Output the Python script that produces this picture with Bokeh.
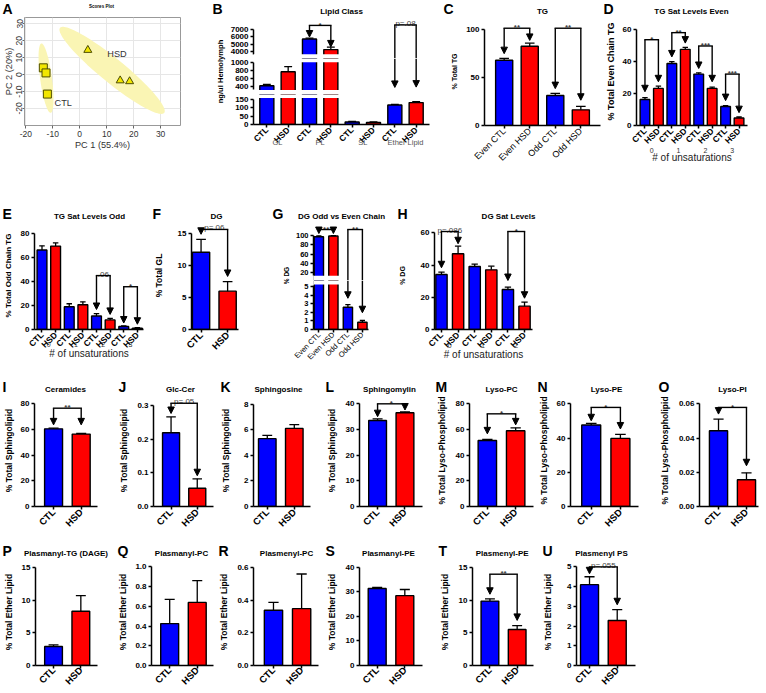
import numpy as np
from math import pi
from bokeh.plotting import figure
from bokeh.layouts import row, column
from bokeh.models import (Range1d, FixedTicker, Label, Arrow, NormalHead, LinearAxis,
                          BoxAnnotation, NumeralTickFormatter)
from bokeh.embed import file_html
from bokeh.resources import INLINE

# ======================= DATA =======================
conditions = ["CTL", "HSD"]

# A  PCA scores plot
pca_ctl_pc1 = [-13.5, -12.5, -12.0]
pca_ctl_pc2 = [4.0, 1.0, -11.5]
pca_hsd_pc1 = [3.0, 15.0, 18.5]
pca_hsd_pc2 = [14.5, -3.5, -4.0]
pca_ticks = [-20, -10, 0, 10, 20, 30]
# confidence ellipses: centre x, centre y, half-major vector (dx, dy), half-minor length
ellipse_ctl = [-12.5, -2.1, -1.7, 20.5, 2.2]
ellipse_hsd = [12.0, 2.5, -19.0, 25.5, 5.6]

# B  Lipid class (ng/ul hemolymph)
lipid_classes = ["GL", "PL", "SL", "Ether Lipid"]
lipid_ctl = [410, 5700, 15, 116]
lipid_ctl_err = [35, 120, 3, 4]
lipid_hsd = [770, 4300, 12, 130]
lipid_hsd_err = [130, 320, 3, 6]

# C  TG chain parity
tg_chain_labels = ["Even CTL", "Even HSD", "Odd CTL", "Odd HSD"]
tg_chain = [68.0, 82.5, 31.3, 16.3]
tg_chain_err = [2.0, 3.2, 2.1, 3.6]

# D  TG saturation, even chain
unsat_levels = ["0", "1", "2", "3"]
tg_even_ctl = [16.2, 38.6, 32.0, 11.8]
tg_even_ctl_err = [1.2, 1.2, 0.8, 0.6]
tg_even_hsd = [23.1, 47.4, 23.1, 4.7]
tg_even_hsd_err = [1.4, 1.3, 0.8, 0.6]

# E  TG saturation, odd chain
tg_odd_ctl = [66.3, 19.0, 11.3, 2.5]
tg_odd_ctl_err = [3.5, 2.5, 1.9, 0.5]
tg_odd_hsd = [69.6, 20.6, 8.0, 1.1]
tg_odd_hsd_err = [2.7, 2.5, 1.3, 0.4]

# F  DG
dg_gl = [12.1, 6.0]
dg_gl_err = [2.0, 1.5]

# G  DG odd vs even chain
dg_chain_labels = ["Even CTL", "Even HSD", "Odd CTL", "Odd HSD"]
dg_chain = [97.4, 99.15, 2.6, 0.85]
dg_chain_err = [2.0, 0.6, 0.3, 0.2]

# H  DG saturation
dg_unsat_levels = ["0", "1", "2"]
dg_sat_ctl = [34.1, 39.1, 24.8]
dg_sat_ctl_err = [1.5, 1.5, 1.5]
dg_sat_hsd = [47.0, 37.0, 14.5]
dg_sat_hsd_err = [4.7, 2.3, 2.5]

# I - U  (CTL, HSD)
ceramides = [60.5, 56.4];          ceramides_err = [0.6, 0.6]
glc_cer = [0.219, 0.054];          glc_cer_err = [0.047, 0.028]
sphingosine = [5.3, 6.1];          sphingosine_err = [0.25, 0.3]
sphingomyelin = [33.5, 36.5];      sphingomyelin_err = [0.6, 0.4]
lyso_pc = [51.4, 59.0];            lyso_pc_err = [0.8, 2.3]
lyso_pe = [47.6, 39.8];            lyso_pe_err = [1.0, 2.4]
lyso_pi = [0.0443, 0.0156];        lyso_pi_err = [0.0068, 0.0041]
plasmanyl_tg = [2.9, 8.3];         plasmanyl_tg_err = [0.25, 2.4]
plasmanyl_pc = [0.425, 0.64];      plasmanyl_pc_err = [0.245, 0.22]
plasmenyl_pc = [0.338, 0.348];     plasmenyl_pc_err = [0.048, 0.212]
plasmanyl_pe = [31.4, 28.5];       plasmanyl_pe_err = [0.5, 2.5]
plasmenyl_pe = [9.85, 5.5];        plasmenyl_pe_err = [0.35, 0.6]
plasmenyl_ps = [4.1, 2.28];        plasmenyl_ps_err = [0.4, 0.55]

# ======================= STYLE / HELPERS =======================
S = 1.0
FONT = "Liberation Sans"
BLUE, RED = "#0000ff", "#ff0000"
WHITE = dict(fill_color="white", fill_alpha=1.0, line_color=None)
CHW = {".": 0.278, "-": 0.333}
LETTER = 14


def sc(v):
    return int(round(v * S))


def fs(v):
    return f"{v * S:.2f}px"


def text_w(s):
    return sum(CHW.get(c, 0.556) for c in s)


def tick_str(t, fmt):
    nd = len(fmt.split(".")[1]) if "." in fmt else 0
    return f"{t:.{nd}f}"


def interleave(a, b):
    out = []
    for u, v in zip(a, b):
        out += [u, v]
    return out


def clean(p):
    p.outline_line_color = None
    p.background_fill_color = "white"
    p.border_fill_color = "white"
    p.grid.visible = False
    p.xgrid.visible = False
    p.ygrid.visible = False


def blank(x0, x1, y0, y1):
    """Strip whose data coordinates equal page pixels (for letters and titles)."""
    p = figure(width=sc(x1) - sc(x0), height=sc(y1) - sc(y0),
               x_range=Range1d(x0, x1), y_range=Range1d(y1, y0),
               output_backend="svg", toolbar_location=None,
               x_axis_location=None, y_axis_location=None,
               min_border_left=0, min_border_right=0, min_border_top=0, min_border_bottom=0)
    clean(p)
    return p


def put(p, s, x, y, size, bold=False, align="center", baseline="middle", color="black"):
    p.add_layout(Label(x=x, y=y, text=s, text_font=FONT, text_font_size=fs(size),
                       text_font_style="bold" if bold else "normal", text_align=align,
                       text_baseline=baseline, text_color=color))


def label_fig(x0, x1, y0, y1, text, size, lx, ly):
    """Narrow figure carrying only a vertical axis title centred at (lx, ly)."""
    fl = min(lx + 0.56 * size, x1 - 2)
    span = min(ly - y0, y1 - ly)
    ft, fb = ly - span, ly + span
    p = figure(width=sc(x1) - sc(x0), height=sc(y1) - sc(y0),
               x_range=Range1d(0, 1), y_range=Range1d(0, 1),
               output_backend="svg", toolbar_location=None,
               x_axis_location=None, y_axis_location="left",
               min_border_left=sc(fl) - sc(x0), min_border_right=0,
               min_border_top=sc(ft) - sc(y0), min_border_bottom=sc(y1) - sc(fb))
    clean(p)
    ax = p.yaxis[0]
    ax.ticker = FixedTicker(ticks=[])
    ax.axis_line_color = None
    ax.major_tick_line_color = None
    ax.minor_tick_line_color = None
    ax.major_tick_out = 0
    ax.major_tick_in = 0
    ax.major_label_standoff = 0
    ax.axis_label = text
    ax.axis_label_standoff = 0
    ax.axis_label_text_font = FONT
    ax.axis_label_text_font_size = fs(size)
    ax.axis_label_text_font_style = "bold"
    ax.axis_label_text_color = "black"
    return p


class Pan:
    def __init__(self, x0, x1, y0, y1, fl, fr, ft, fb, xr=None, xcal=None,
                 ycal=None, yr=None, xaxis=True, yaxis=True):
        if xcal is not None:
            va, pa_, vb, pb = xcal
            k = (vb - va) / (pb - pa_)
            xr = (va + (fl - pa_) * k, va + (fr - pa_) * k)
        if ycal is not None:
            va, pa_, vb, pb = ycal
            k = (vb - va) / (pb - pa_)
            yr = (va + (fb - pa_) * k, va + (ft - pa_) * k)
        self.xr, self.yr = tuple(xr), tuple(yr)
        self.fl, self.fr, self.ft, self.fb = fl, fr, ft, fb
        p = figure(width=sc(x1) - sc(x0), height=sc(y1) - sc(y0),
                   x_range=Range1d(*self.xr), y_range=Range1d(*self.yr),
                   output_backend="svg", toolbar_location=None,
                   x_axis_location="below" if xaxis else None,
                   y_axis_location="left" if yaxis else None,
                   min_border_left=sc(fl) - sc(x0), min_border_right=sc(x1) - sc(fr),
                   min_border_top=sc(ft) - sc(y0), min_border_bottom=sc(y1) - sc(fb))
        clean(p)
        self.p = p


def base_axis(ax, size, bold):
    ax.axis_line_width = 1.5 * S
    ax.axis_line_color = "black"
    ax.major_tick_line_width = 1.5 * S
    ax.major_tick_line_color = "black"
    ax.major_tick_out = 3
    ax.major_tick_in = 0
    ax.minor_tick_line_color = None
    ax.major_label_standoff = 2
    ax.major_label_text_font = FONT
    ax.major_label_text_font_size = fs(size)
    ax.major_label_text_font_style = "bold" if bold else "normal"
    ax.major_label_text_color = "black"


def style_y(pan, ticks, fmt="0", bounds=None, size=8, label=None, lsize=8.5, lx=None):
    ax = pan.p.yaxis[0]
    ax.ticker = FixedTicker(ticks=ticks)
    ax.bounds = tuple(bounds) if bounds is not None else (ticks[0], ticks[-1])
    ax.formatter = NumeralTickFormatter(format=fmt)
    base_axis(ax, size, True)
    if label is not None:
        w = max(text_w(tick_str(t, fmt)) for t in ticks) * size
        st = (pan.fl - lx) - 3 - 2 - w - 0.56 * lsize
        ax.axis_label = label
        ax.axis_label_standoff = max(0, int(round(st)))
        ax.axis_label_text_font = FONT
        ax.axis_label_text_font_size = fs(lsize)
        ax.axis_label_text_font_style = "bold"
        ax.axis_label_text_color = "black"


def style_x(pan, labels, size, bold, standoff=1):
    ax = pan.p.xaxis[0]
    ax.ticker = FixedTicker(ticks=list(range(len(labels))))
    ax.major_label_overrides = {i: s for i, s in enumerate(labels)}
    ax.major_label_orientation = pi / 4
    base_axis(ax, size, bold)
    ax.major_label_standoff = standoff


def group_axis(pan, labels, standoff, size, color="#333333", title=None, title_standoff=0):
    centers = [2 * k + 0.5 for k in range(len(labels))]
    ax = LinearAxis(ticker=FixedTicker(ticks=centers),
                    major_label_overrides={c: s for c, s in zip(centers, labels)})
    ax.axis_line_color = None
    ax.major_tick_line_color = None
    ax.minor_tick_line_color = None
    ax.major_tick_in = 0
    ax.major_tick_out = 0
    ax.major_label_standoff = standoff
    ax.major_label_text_font = FONT
    ax.major_label_text_font_size = fs(size)
    ax.major_label_text_color = color
    if title is not None:
        ax.axis_label = title
        ax.axis_label_standoff = title_standoff
        ax.axis_label_text_font = FONT
        ax.axis_label_text_font_size = fs(10)
        ax.axis_label_text_font_style = "normal"
        ax.axis_label_text_color = "#222222"
    pan.p.add_layout(ax, "below")


def draw_bars(pan, vals, errs, colors, width):
    x = np.arange(len(vals), dtype=float)
    v = np.asarray(vals, float)
    e = np.asarray(errs, float)
    p = pan.p
    p.vbar(x=x, top=v, bottom=0, width=width, fill_color=colors,
           line_color="black", line_width=1.4 * S)
    cw = 0.28 * width
    p.segment(x, v, x, v + e, line_color="black", line_width=1.3 * S)
    p.segment(x - cw, v + e, x + cw, v + e, line_color="black", line_width=1.3 * S)


def arrow(pan, x, y0, y1, head=True):
    end = NormalHead(size=6.5 * S, fill_color="black", line_color="black",
                     line_width=1) if head else None
    pan.p.add_layout(Arrow(x_start=x, y_start=y0, x_end=x, y_end=y1, end=end,
                           line_color="black", line_width=1.4 * S, level="overlay"))


def bracket(pan, xa, xb, yline, text, tipa, tipb, tip_pan=None):
    pan.p.segment([xa], [yline], [xb], [yline], line_color="black",
                  line_width=1.4 * S, line_cap="square", level="overlay")
    if tip_pan is None:
        arrow(pan, xa, yline, tipa)
        arrow(pan, xb, yline, tipb)
    else:
        arrow(pan, xa, yline, pan.yr[0], head=False)
        arrow(pan, xb, yline, pan.yr[0], head=False)
        arrow(tip_pan, xa, tip_pan.yr[1], tipa)
        arrow(tip_pan, xb, tip_pan.yr[1], tipb)
    star = text.startswith("*")
    pan.p.add_layout(Label(x=(xa + xb) / 2, y=yline, y_offset=(0.3 if star else 1.5) * S,
                           text=text, text_align="center", text_baseline="alphabetic",
                           text_font=FONT, text_font_size=fs(8),
                           text_font_style="bold" if star else "normal"))


def ellipse_xy(e, n=120):
    cx, cy, ux, uy, b = e
    L = np.hypot(ux, uy)
    wx, wy = b * uy / L, -b * ux / L
    t = np.linspace(0, 2 * np.pi, n)
    return cx + np.cos(t) * ux + np.sin(t) * wx, cy + np.cos(t) * uy + np.sin(t) * wy


# ======================= ROW 1 =======================
H1 = blank(0, 766, 0, 16)
put(H1, "A", 2, 8, LETTER, bold=True, align="left")
put(H1, "Scores Plot", 101, 6, 4.5, bold=True)
put(H1, "B", 212, 8, LETTER, bold=True, align="left")
put(H1, "Lipid Class", 341, 11, 8, bold=True)
put(H1, "C", 443, 8, LETTER, bold=True, align="left")
put(H1, "TG", 542, 11, 8, bold=True)
put(H1, "D", 603, 8, LETTER, bold=True, align="left")
put(H1, "TG Sat Levels Even", 691, 11, 8, bold=True)

# ---- A
A = Pan(0, 212, 16, 205, 23, 180, 16, 170, xcal=(-20, 24.3, 30, 160), ycal=(30, 25, -20, 145.7))
pa = A.p
pa.outline_line_color = "#999999"
pa.outline_line_width = 1
for g in (pa.xgrid[0], pa.ygrid[0]):
    g.visible = True
    g.ticker = FixedTicker(ticks=pca_ticks)
    g.grid_line_color = "#e6e6e6"
for e in (ellipse_ctl, ellipse_hsd):
    ex, ey = ellipse_xy(e)
    pa.patch(ex, ey, fill_color="#faf5b4", line_color=None)
pa.scatter(pca_ctl_pc1, pca_ctl_pc2, marker="square", size=8 * S, fill_color="#f2e600",
           line_color="#4d4d00", line_width=1)
pa.scatter(pca_hsd_pc1, pca_hsd_pc2, marker="triangle", size=8 * S, fill_color="#f2e600",
           line_color="#4d4d00", line_width=1)
for ax, lab in ((pa.xaxis[0], "PC 1 (55.4%)"), (pa.yaxis[0], "PC 2 (20%)")):
    ax.ticker = FixedTicker(ticks=pca_ticks)
    ax.major_label_overrides = {t: str(t) for t in pca_ticks}
    ax.axis_line_color = None
    ax.major_tick_out = 3
    ax.major_tick_in = 0
    ax.major_tick_line_color = "#666666"
    ax.minor_tick_line_color = None
    ax.major_label_standoff = 2
    ax.major_label_text_font = FONT
    ax.major_label_text_font_size = fs(8.5)
    ax.major_label_text_color = "#333333"
    ax.axis_label = lab
    ax.axis_label_standoff = 0
    ax.axis_label_text_font = FONT
    ax.axis_label_text_font_size = fs(9.2)
    ax.axis_label_text_font_style = "normal"
    ax.axis_label_text_color = "#333333"
pa.yaxis[0].major_label_orientation = "parallel"
pa.yaxis[0].major_tick_out = 2
pa.yaxis[0].major_label_standoff = 0
for txt, x, y in (("HSD", 13.8, 12.2), ("CTL", -6.1, -16.9)):
    pa.add_layout(Label(x=x, y=y, text=txt, text_align="center", text_baseline="middle",
                        text_font=FONT, text_font_size=fs(9.2), text_color="#333333"))

# ---- B  (broken axis, three stacked segments)
B_lab = label_fig(212, 226, 16, 205, "ng/ul Hemolymph", 7.6, 221.5, 75)
xrB = (-0.625, 7.625)
B_top = Pan(226, 440, 16, 58.4, 252.7, 428.6, 16, 58.4, xr=xrB, ycal=(7000, 28.7, 4000, 51.7), xaxis=False)
B_mid = Pan(226, 440, 58.4, 94, 252.7, 428.6, 58.4, 94, xr=xrB, ycal=(1000, 62.7, 400, 85.7), xaxis=False)
B_bot = Pan(226, 440, 94, 205, 252.7, 428.6, 94, 123.7, xr=xrB, ycal=(150, 98.7, 0, 123.7))
b_vals = interleave(lipid_ctl, lipid_hsd)
b_errs = interleave(lipid_ctl_err, lipid_hsd_err)
for pan, ticks, bnd in ((B_top, [4000, 5000, 6000, 7000], (3700, 7000)),
                        (B_mid, [400, 600, 800, 1000], (300, 1000)),
                        (B_bot, [0, 50, 100, 150], (0, 150))):
    draw_bars(pan, b_vals, b_errs, [BLUE, RED] * 4, 0.66)
    style_y(pan, ticks, "0", bnd)
style_x(B_bot, conditions * 4, 8.5, True)
group_axis(B_bot, lipid_classes, -14, 7.5, color="#555555")
B_top.p.add_layout(BoxAnnotation(top=3700, **WHITE))
B_mid.p.add_layout(BoxAnnotation(top=300, **WHITE))
B_mid.p.add_layout(BoxAnnotation(bottom=1018, **WHITE))
B_bot.p.add_layout(BoxAnnotation(bottom=157, **WHITE))
bracket(B_top, 2, 3, 7483, "*", 5957, 4652)
bracket(B_top, 6, 7, 7548, "p=.08", 366, 374, tip_pan=B_mid)

# ---- C
C = Pan(440, 602, 16, 205, 484, 600.4, 17, 125.3, xr=(-0.77, 3.77), ycal=(100, 29, 0, 125.3))
draw_bars(C, tg_chain, tg_chain_err, [BLUE, RED, BLUE, RED], 0.67)
style_y(C, [0, 50, 100], label="% Total TG", lsize=7, lx=457)
style_x(C, tg_chain_labels, 9, False)
bracket(C, 0, 1, 101.3, "**", 74.8, 88.6)
bracket(C, 2, 3, 101.3, "**", 38.4, 26.3)

# ---- D
D = Pan(602, 766, 16, 205, 633.3, 746.7, 17, 125.7, xr=(-0.63, 7.63), ycal=(60, 28.7, 0, 125.7))
draw_bars(D, interleave(tg_even_ctl, tg_even_hsd), interleave(tg_even_ctl_err, tg_even_hsd_err),
          [BLUE, RED] * 4, 0.72)
style_y(D, [0, 20, 40, 60], label="% Total Even Chain TG", lsize=9, lx=610)
style_x(D, conditions * 4, 8.5, True)
group_axis(D, unsat_levels, -5, 7, title="# of unsaturations", title_standoff=-4)
bracket(D, 0, 1, 53.4, "*", 21.0, 27.2)
bracket(D, 2, 3, 57.8, "**", 42.7, 51.3)
bracket(D, 4, 5, 49.5, "***", 35.5, 27.2)
bracket(D, 6, 7, 32.0, "***", 15.5, 8.0)

# ======================= ROW 2 =======================
H2 = blank(0, 766, 205, 221)
put(H2, "E", 2, 213, LETTER, bold=True, align="left")
put(H2, "TG Sat Levels Odd", 89, 216, 8, bold=True)
put(H2, "F", 152, 213, LETTER, bold=True, align="left")
put(H2, "DG", 216, 216, 8, bold=True)
put(H2, "G", 272, 213, LETTER, bold=True, align="left")
put(H2, "DG Odd vs Even Chain", 341, 216, 8, bold=True)
put(H2, "H", 397, 213, LETTER, bold=True, align="left")
put(H2, "DG Sat Levels", 508, 216, 8, bold=True)

# ---- E
E = Pan(0, 150, 221, 378, 31.7, 142.7, 221, 330.3, xr=(-0.55, 7.45), ycal=(80, 233.3, 0, 330.3))
draw_bars(E, interleave(tg_odd_ctl, tg_odd_hsd), interleave(tg_odd_ctl_err, tg_odd_hsd_err),
          [BLUE, RED] * 4, 0.72)
style_y(E, [0, 20, 40, 60, 80], label="% Total Odd Chain TG", lsize=8, lx=8.3)
style_x(E, conditions * 4, 8.5, True)
group_axis(E, unsat_levels, -15, 7, title="# of unsaturations", title_standoff=-2)
bracket(E, 4, 5, 45.0, ".06", 16.7, 12.6)
bracket(E, 6, 7, 35.7, "*", 5.4, 4.4)

# ---- F
F = Pan(150, 270, 221, 378, 188.3, 238.3, 221, 330.3, xr=(-0.36, 1.41), ycal=(15, 233.3, 0, 330.3))
draw_bars(F, dg_gl, dg_gl_err, [BLUE, RED], 0.65)
style_y(F, [0, 5, 10, 15], label="% Total GL", lsize=8.5, lx=159)
style_x(F, conditions, 9.5, True)
bracket(F, 0, 1, 15.66, "p=.06", 14.9, 8.3)

# ---- G  (broken axis, two stacked segments)
G_lab = label_fig(270, 292, 221, 378, "% DG", 6.5, 285, 285)
xrG = (-0.37, 3.42)
G_top = Pan(292, 395, 221, 279.7, 313.3, 368.3, 221, 279.7, xr=xrG, ycal=(100, 235, 20, 271.7), xaxis=False)
G_bot = Pan(292, 395, 279.7, 378, 313.3, 368.3, 279.7, 329.3, xr=xrG, ycal=(5, 286, 0, 329.3))
for pan, ticks, bnd in ((G_top, [20, 40, 60, 80, 100], (12.8, 100)),
                        (G_bot, [0, 1, 2, 3, 4, 5], (0, 5.2))):
    draw_bars(pan, dg_chain, dg_chain_err, [BLUE, RED, BLUE, RED], 0.64)
    style_y(pan, ticks, "0", bnd, size=7.5)
style_x(G_bot, dg_chain_labels, 7.5, False)
G_top.p.add_layout(BoxAnnotation(top=12.8, **WHITE))
G_bot.p.add_layout(BoxAnnotation(bottom=5.25, **WHITE))
bracket(G_top, 0, 1, 113.1, "**", 104.4, 104.4)
bracket(G_top, 2, 3, 113.1, "**", 3.65, 1.96, tip_pan=G_bot)

# ---- H
H = Pan(395, 766, 221, 378, 430, 531.7, 221, 329, xr=(-0.42, 5.48), ycal=(60, 232.3, 0, 329))
draw_bars(H, interleave(dg_sat_ctl, dg_sat_hsd), interleave(dg_sat_ctl_err, dg_sat_hsd_err),
          [BLUE, RED] * 3, 0.68)
style_y(H, [0, 20, 40, 60], label="% DG", lsize=7, lx=400)
style_x(H, conditions * 3, 8.5, True)
group_axis(H, dg_unsat_levels, -14, 7, title="# of unsaturations", title_standoff=-2)
bracket(H, 0, 1, 60.8, "p=.086", 38.3, 53.2)
bracket(H, 4, 5, 60.8, "*", 30.4, 19.4)


# ======================= ROWS 3 & 4 =======================
def two_group(x0, x1, y0, y1, ft, fl, fr, fb, xr, ycal, ticks, fmt, vals, errs,
              ylabel, lx, br=None, xstand=1):
    pan = Pan(x0, x1, y0, y1, fl, fr, ft, fb, xr=xr, ycal=ycal)
    draw_bars(pan, vals, errs, [BLUE, RED], 0.65)
    style_y(pan, ticks, fmt, label=ylabel, lsize=8.5, lx=lx)
    style_x(pan, conditions, 9.5, True, standoff=xstand)
    if br is not None:
        bracket(pan, 0, 1, br[0], br[3], br[1], br[2])
    return pan


H3 = blank(0, 766, 378, 394)
for letter, lx_, title, tx in (("I", 2, "Ceramides", 65), ("J", 118, "Glc-Cer", 180),
                               ("K", 220, "Sphingosine", 278), ("L", 325, "Sphingomylin", 389),
                               ("M", 435, "Lyso-PC", 501), ("N", 537, "Lyso-PE", 606),
                               ("O", 658, "Lyso-PI", 732)):
    put(H3, letter, lx_, 386, LETTER, bold=True, align="left")
    put(H3, title, tx, 389, 8, bold=True)

H4 = blank(0, 766, 543, 558)
for letter, lx_, title, tx in (("P", 2, "Plasmanyl-TG (DAGE)", 65.5), ("Q", 117, "Plasmanyl-PC", 181),
                               ("R", 218, "Plasmenyl-PC", 286), ("S", 325, "Plasmanyl-PE", 388),
                               ("T", 438, "Plasmenyl-PE", 501.7), ("U", 542, "Plasmenyl PS", 601)):
    put(H4, letter, lx_, 550.5, LETTER, bold=True, align="left")
    put(H4, title, tx, 552.5, 8, bold=True)

R3 = (394, 543, 394)
R4 = (558, 693, 558)
SPH = "% Total Sphingolipid"
LYS = "% Total Lyso-Phospholipid"
ETH = "% Total Ether Lipid"

I = two_group(0, 116, *R3, 29.3, 96.7, 505.7, (-0.69, 1.59), (80, 403.3, 0, 505.7),
              [0, 20, 40, 60, 80], "0", ceramides, ceramides_err, SPH, 6.7,
              br=(76.6, 63.6, 63.6, "**"))
J = two_group(116, 218, *R3, 146.7, 213.3, 505.7, (-0.67, 1.62), (0.3, 404.9, 0, 505.7),
              [0, 0.1, 0.2, 0.3], "0.0", glc_cer, glc_cer_err, SPH, 120.7,
              br=(0.3065, 0.276, 0.0914, "p=.05"))
K = two_group(218, 323, *R3, 248.3, 310, 506, (-0.51, 1.6), (8, 403.6, 0, 506),
              [0, 2, 4, 6, 8], "0", sphingosine, sphingosine_err, SPH, 224)
L = two_group(323, 433, *R3, 352.7, 421.7, 505.7, (-0.66, 1.64), (40, 403.3, 0, 505.7),
              [0, 10, 20, 30, 40], "0", sphingomyelin, sphingomyelin_err, SPH, 328.3,
              br=(40.0, 35.0, 37.6, "*"))
M = two_group(433, 535, *R3, 467.3, 533.3, 505.7, (-0.63, 1.63), (80, 403.3, 0, 505.7),
              [0, 20, 40, 60, 80], "0", lyso_pc, lyso_pc_err, LYS, 442.7,
              br=(72.2, 56.6, 63.6, "*"))
N = two_group(535, 656, *R3, 570, 638.3, 505.7, (-0.71, 1.62), (60, 403.3, 0, 505.7),
              [0, 20, 40, 60], "0", lyso_pe, lyso_pe_err, LYS, 546.7,
              br=(57.9, 50.1, 45.3, "*"))
O = two_group(656, 766, *R3, 696.7, 758.3, 505.7, (-0.68, 1.43), (0.06, 403.3, 0, 505.7),
              [0, 0.02, 0.04, 0.06], "0.00", lyso_pi, lyso_pi_err, LYS, 665,
              br=(0.0579, 0.054, 0.0238, "*"))

P = two_group(0, 115, *R4, 30.7, 97.3, 669, (-0.66, 1.61), (15, 567.3, 0, 669),
              [0, 5, 10, 15], "0", plasmanyl_tg, plasmanyl_tg_err, ETH, 7.3, xstand=0)
Q = two_group(115, 216, *R4, 146.7, 213.3, 669, (-0.66, 1.59), (1.0, 566.7, 0, 669),
              [0, 0.2, 0.4, 0.6, 0.8, 1.0], "0.0", plasmanyl_pc, plasmanyl_pc_err, ETH, 121.7, xstand=0)
R = two_group(216, 323, *R4, 250, 318.3, 669, (-0.71, 1.6), (0.6, 567.3, 0, 669),
              [0, 0.2, 0.4, 0.6], "0.0", plasmenyl_pc, plasmenyl_pc_err, ETH, 224, xstand=0)
S_ = two_group(323, 436, *R4, 353.3, 421.7, 669, (-0.64, 1.64), (40, 567.3, 0, 669),
               [0, 10, 20, 30, 40], "0", plasmanyl_pe, plasmanyl_pe_err, ETH, 328.3, xstand=0)
T = two_group(436, 540, *R4, 468.3, 533.3, 669, (-0.64, 1.6), (15, 567.3, 0, 669),
              [0, 5, 10, 15], "0", plasmenyl_pe, plasmenyl_pe_err, ETH, 443.3,
              br=(13.97, 10.9, 6.9, "**"), xstand=0)
U = two_group(540, 766, *R4, 573.3, 635, 669, (-0.47, 1.66), (5, 566.7, 0, 669),
              [0, 1, 2, 3, 4, 5], "0", plasmenyl_ps, plasmenyl_ps_err, ETH, 548.3,
              br=(5.0, 4.65, 3.08, "p=.055"), xstand=0)

# ======================= LAYOUT =======================
row1 = column(H1, row(A.p, B_lab, column(B_top.p, B_mid.p, B_bot.p), C.p, D.p))
row2 = column(H2, row(E.p, F.p, G_lab, column(G_top.p, G_bot.p), H.p))
row3 = column(H3, row(I.p, J.p, K.p, L.p, M.p, N.p, O.p))
row4 = column(H4, row(P.p, Q.p, R.p, S_.p, T.p, U.p))
layout = column(row1, row2, row3, row4)

with open("out.html", "w") as f:
    f.write(file_html(layout, INLINE, title="Lipidomics figure"))
